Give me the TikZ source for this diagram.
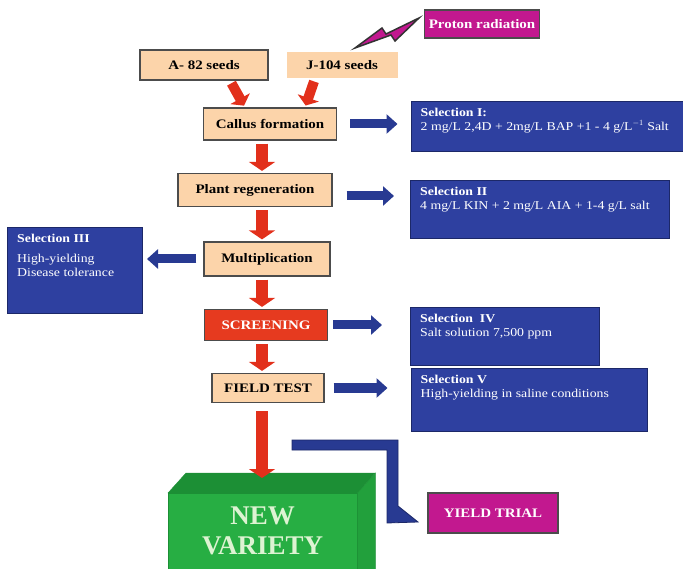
\documentclass[tikz,border=0pt]{standalone}
\usepackage{fontspec}
\setmainfont{Liberation Serif}
\newfontfamily\boxfont[FakeStretch=1.15]{Liberation Serif}
\usetikzlibrary{arrows.meta}
\definecolor{peach}{HTML}{FCD4AA}
\definecolor{selblue}{HTML}{2E40A0}
\definecolor{navy}{HTML}{1C2868}
\definecolor{arrblue}{HTML}{283A92}
\definecolor{magpink}{HTML}{C2188F}
\definecolor{scrred}{HTML}{E63A1F}
\definecolor{arrred}{HTML}{E2301B}
\definecolor{greenfront}{HTML}{27AE43}
\definecolor{greentop}{HTML}{1C8F35}
\definecolor{greenside}{HTML}{22A03C}
\definecolor{paletext}{HTML}{DDF3D2}
\tikzset{
  stepbox/.style={draw=black!70, line width=1.2pt, fill=peach, inner sep=0pt,
    font=\boxfont\bfseries\fontsize{13}{15}\selectfont},
  magbox/.style={stepbox, fill=magpink, text=white},
  selbox/.style={draw=navy, line width=1pt, fill=selblue, inner sep=0pt},
  seltext/.style={anchor=north west, align=left, text=white, inner xsep=10pt, inner ysep=6pt,
    font=\boxfont\fontsize{12}{14}\selectfont},
  redarrow/.style={draw=arrred, line width=12pt, -{Triangle[length=9pt,width=26pt]},
    shorten <=3pt, shorten >=2pt},
  bluearrow/.style={draw=arrblue, line width=9pt, -{Triangle[length=11pt,width=19pt]}},
}
\begin{document}
\begin{tikzpicture}[x=1pt,y=-1pt]
\useasboundingbox (0,0) rectangle (683,569);
% seeds and radiation
\node[magbox, minimum width=115, minimum height=28] (proton) at (482,24) {Proton radiation};
\node[stepbox, minimum width=128, minimum height=30] (aseeds) at (204,65) {A- 82 seeds};
\node[stepbox, draw=none, minimum width=111, minimum height=26] (jseeds) at (342,65) {J-104 seeds};
\filldraw[fill=magpink, draw=black!80, line width=1.5pt] (355,48) -- (382,28) -- (386,34) -- (419,18)
  -- (395,41) -- (391,35) -- cycle;
% main steps
\coordinate (spine) at (262,0);
\node[stepbox, minimum width=133, minimum height=32] (callus) at (270,124) {Callus formation};
\node[stepbox, minimum width=154, minimum height=33] (plant) at (255,190) {Plant regeneration};
\node[stepbox, minimum width=126, minimum height=34] (multi) at (267,259) {Multiplication};
\node[stepbox, fill=scrred, text=white, minimum width=123, minimum height=31] (screen) at (266,325) {SCREENING};
\node[stepbox, minimum width=112, minimum height=29] (field) at (268,388) {FIELD TEST};
% selections
\node[selbox, minimum width=272, minimum height=50,
  label={[seltext]north west:{\textbf{Selection I:}\\2 mg/L 2,4D + 2mg/L BAP +1 - 4 g/L$^{-1}$ Salt}}] (sel1) at (547,127) {};
\node[selbox, minimum width=259, minimum height=58,
  label={[seltext]north west:{\textbf{Selection II}\\4 mg/L KIN + 2 mg/L AIA + 1-4 g/L salt}}] (sel2) at (540,210) {};
\node[selbox, minimum width=135, minimum height=86,
  label={[seltext]north west:{\textbf{Selection III}\\[6pt]High-yielding\\Disease tolerance}}] (sel3) at (75,271) {};
\node[selbox, minimum width=189, minimum height=58,
  label={[seltext]north west:{\textbf{Selection\ \ IV}\\Salt solution 7,500 ppm}}] (sel4) at (505,337) {};
\node[selbox, minimum width=236, minimum height=62,
  label={[seltext]north west:{\textbf{Selection V}\\High-yielding in saline conditions}}] (sel5) at (529,400) {};
% new variety block
\node[draw=greentop, fill=greenfront, anchor=north west, minimum width=189, minimum height=76,
  align=center, text=paletext, font=\bfseries\fontsize{27}{30}\selectfont] (variety) at (168,493) {NEW\\VARIETY};
\filldraw[draw=greentop, fill=greentop] (variety.north west) -- ++(18,-20) -- ++(189,0)
  -- (variety.north east) -- cycle;
\filldraw[draw=greentop, fill=greenside] (variety.north east) -- ++(18,-20) -- ++(0,100) -- ++(-18,0) -- cycle;
\node[magbox, minimum width=130, minimum height=40] (yield) at (493,513) {YIELD TRIAL};
\filldraw[draw=navy, fill=arrblue, line width=0.8pt] (292,440) -- (398,440) -- (398,506) -- (418,522)
  -- (387,523) -- (387,450) -- (292,450) -- cycle;
% red arrows
\draw[redarrow, line width=10pt, -{Triangle[length=8pt,width=22pt]}] ([xshift=26pt]aseeds.south) -- ([xshift=-25pt]callus.north);
\draw[redarrow, line width=10pt, -{Triangle[length=8pt,width=22pt]}] ([xshift=-27pt]jseeds.south) -- ([xshift=35pt]callus.north);
\draw[redarrow] (callus.south -| spine) -- (plant.north -| spine);
\draw[redarrow] (plant.south -| spine) -- (multi.north -| spine);
\draw[redarrow] (multi.south -| spine) -- (screen.north -| spine);
\draw[redarrow] (screen.south -| spine) -- (field.north -| spine);
\draw[redarrow, shorten <=8pt, shorten >=15pt] (field.south -| spine) -- (variety.north -| spine);
% blue arrows
\draw[bluearrow, shorten <=13pt, shorten >=13pt] (callus.east) -- (sel1.west |- callus.east);
\draw[bluearrow, shorten <=14pt, shorten >=16pt] ([yshift=-6pt]plant.east) -- ([yshift=-6pt]sel2.west |- plant.east);
\draw[bluearrow, shorten <=7pt, shorten >=4pt] (multi.west) -- (sel3.east |- multi.west);
\draw[bluearrow, shorten <=5pt, shorten >=28pt] (screen.east) -- (sel4.west |- screen.east);
\draw[bluearrow, shorten <=9pt, shorten >=23pt] (field.east) -- (sel5.west |- field.east);
\end{tikzpicture}
\end{document}
